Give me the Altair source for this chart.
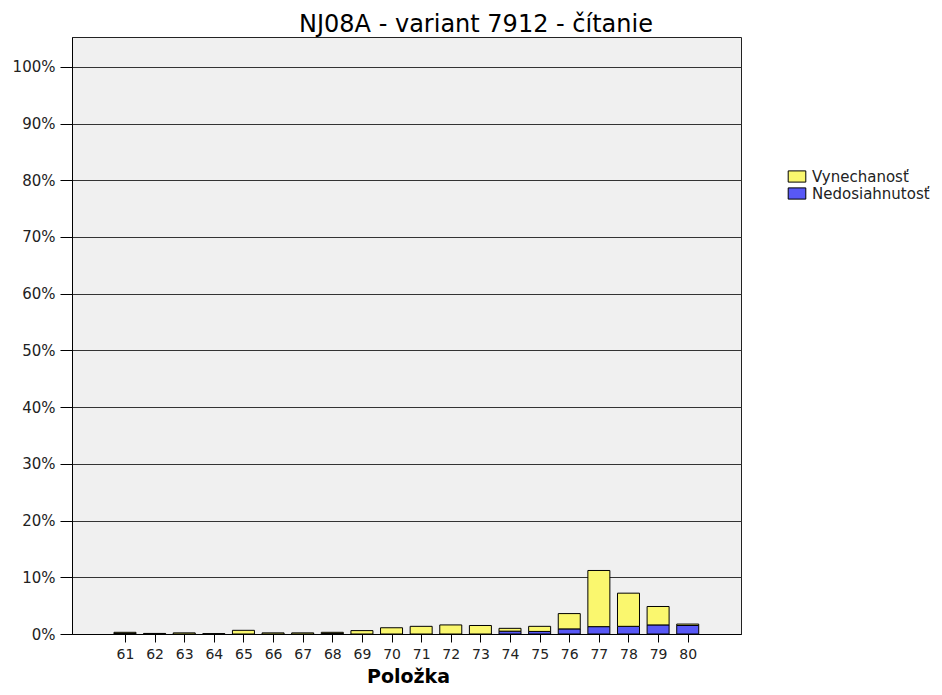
import altair as alt
import pandas as pd

items = list(range(61, 81))
nedosiahnutost = [0.1, 0.0, 0.0, 0.0, 0.0, 0.0, 0.0, 0.1, 0.0, 0.0,
                  0.0, 0.0, 0.0, 0.5, 0.45, 0.9, 1.3, 1.35, 1.6, 1.5]
vynechanost = [0.2, 0.1, 0.2, 0.05, 0.65, 0.2, 0.2, 0.2, 0.6, 1.1,
               1.35, 1.6, 1.5, 0.5, 0.9, 2.7, 9.9, 5.85, 3.25, 0.25]
series = ["Vynechanosť", "Nedosiahnutosť"]
colors = ["#FAF76E", "#5858F6"]
y_ticks = [0, 10, 20, 30, 40, 50, 60, 70, 80, 90, 100]

rows = []
for it, b, y in zip(items, nedosiahnutost, vynechanost):
    rows.append({"item": it, "series": series[1], "value": b, "ord": 0})
    rows.append({"item": it, "series": series[0], "value": y, "ord": 1})
df = pd.DataFrame(rows)

FONT = "DejaVu Sans"

chart = alt.Chart(df).mark_bar(stroke="black", strokeWidth=1, size=22).encode(
    x=alt.X("item:Q",
            scale=alt.Scale(domain=[59.38, 81.63], nice=False, zero=False),
            axis=alt.Axis(title="Položka", values=items, format="d", labelAngle=0,
                          labelFont=FONT, labelFontSize=14, grid=False,
                          labelColor="#222", tickSize=8, tickColor="black", labelPadding=5,
                          domainColor="black", titleFont=FONT, titleFontSize=19,
                          titleFontWeight="bold", titleColor="black", titleY=48,
                          titleX=336, titleBaseline="alphabetic")),
    y=alt.Y("value:Q", stack="zero",
            scale=alt.Scale(domain=[0, 105.26], nice=False, zero=True),
            axis=alt.Axis(title=None, values=y_ticks, labelExpr="datum.value + '%'",
                          labelFont=FONT, labelFontSize=15, labelColor="#222",
                          tickSize=12, tickColor="black", labelPadding=5,
                          domainColor="black", grid=True, gridColor="#333",
                          gridWidth=1)),
    color=alt.Color("series:N", scale=alt.Scale(domain=series, range=colors),
                    legend=alt.Legend(title=None, orient="none", legendX=716.5, legendY=131,
                                      symbolType="M-1.1,-0.7H1.1V0.7H-1.1Z", symbolSize=256,
                                      symbolStrokeColor="black", symbolStrokeWidth=1,
                                      symbolOpacity=1, labelFont=FONT, labelFontSize=15,
                                      labelColor="#222", labelOffset=6.5, rowPadding=0,
                                      padding=0)),
    order=alt.Order("ord:Q", sort="ascending"),
).properties(
    width=669,
    height=597,
    background="white",
    title=alt.TitleParams("NJ08A - variant 7912 - čítanie", font=FONT, fontSize=24,
                          fontWeight="normal", color="black", anchor="middle",
                          baseline="alphabetic", offset=4, dx=69.5, dy=23),
    autosize=alt.AutoSizeParams(type="none"),
    padding={"left": 64, "top": 29, "right": 193, "bottom": 53},
).configure_view(
    fill="#F0F0F0", stroke="#222", strokeWidth=1
)

chart.save("out.html", embed_options={"renderer": "svg", "actions": False})
